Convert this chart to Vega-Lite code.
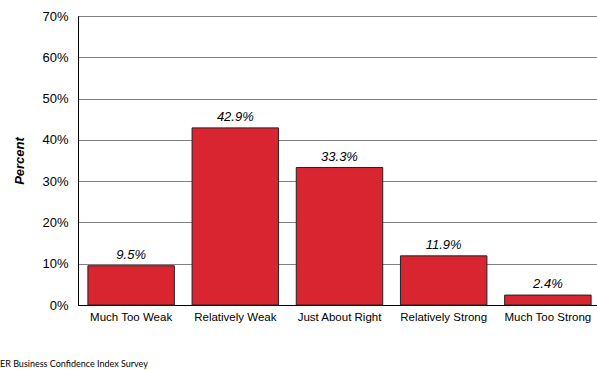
{
  "$schema": "https://vega.github.io/schema/vega-lite/v6.json",
  "autosize": "none",
  "width": 523,
  "height": 289,
  "padding": {"left": 78, "top": 16, "right": 0, "bottom": 65},
  "background": "white",
  "config": {
    "font": "Liberation Sans",
    "view": {"stroke": "black", "strokeWidth": 1}
  },
  "title": {
    "text": "ER Business Confidence Index Survey",
    "orient": "bottom",
    "anchor": "start",
    "frame": "group",
    "dx": -78,
    "offset": 37,
    "fontSize": 9,
    "fontWeight": "normal",
    "font": "Lato",
    "color": "black"
  },
  "data": {
    "values": [
      {"category": "Much Too Weak", "value": 0.095},
      {"category": "Relatively Weak", "value": 0.429},
      {"category": "Just About Right", "value": 0.333},
      {"category": "Relatively Strong", "value": 0.119},
      {"category": "Much Too Strong", "value": 0.024}
    ]
  },
  "encoding": {
    "x": {
      "field": "category",
      "type": "nominal",
      "sort": null,
      "scale": {"paddingInner": 0.17, "paddingOuter": 0.095},
      "axis": {
        "title": null,
        "labelAngle": 0,
        "labelFontSize": 11.5,
        "labelColor": "black",
        "labelPadding": 6,
        "ticks": false,
        "domainColor": "black",
        "grid": false
      }
    },
    "y": {
      "field": "value",
      "type": "quantitative",
      "scale": {"domain": [0, 0.7]},
      "axis": {
        "title": "Percent",
        "titleFontSize": 13,
        "titleFontWeight": "bold",
        "titleFontStyle": "italic",
        "titleColor": "black",
        "titlePadding": 15,
        "format": ".0%",
        "values": [0, 0.1, 0.2, 0.3, 0.4, 0.5, 0.6, 0.7],
        "labelFontSize": 13,
        "labelColor": "black",
        "labelPadding": 10,
        "ticks": false,
        "domainColor": "black",
        "grid": true,
        "gridColor": "#808080",
        "gridWidth": 1
      }
    }
  },
  "layer": [
    {
      "mark": {"type": "bar", "color": "#D9252F", "stroke": "#222222", "strokeWidth": 1}
    },
    {
      "mark": {"type": "text", "dy": -11, "fontSize": 13, "fontStyle": "italic", "color": "black"},
      "encoding": {
        "text": {"field": "value", "type": "quantitative", "format": ".1%"}
      }
    }
  ]
}
